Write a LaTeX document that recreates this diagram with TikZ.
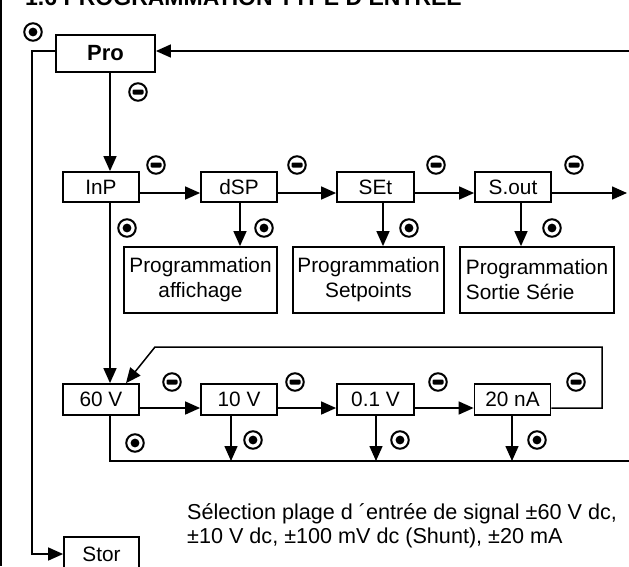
\documentclass[tikz,border=0pt]{standalone}
\usepackage{fontspec}
\setmainfont{Liberation Sans}
\usetikzlibrary{arrows.meta,calc}
\begin{document}
\begin{tikzpicture}[x=1pt,y=-1pt,
  box/.style={draw,line width=1.8pt,inner sep=0pt,minimum height=30pt,minimum width=76pt,font=\fontsize{20.8}{25}\selectfont},
  pbox/.style={box,minimum height=66pt},
  ln/.style={line width=1.5pt},
  arr/.style={ln,-{Triangle[length=15pt,width=13pt]}},
  sym/.style={circle,draw,line width=2pt,minimum size=17.5pt,inner sep=0pt},
  entsym/.style={sym,path picture={\fill (path picture bounding box.center) circle (4.4pt);}},
  minsym/.style={sym,path picture={\fill[rounded corners=1.2pt] ($(path picture bounding box.center)+(-5.5pt,-2.5pt)$) rectangle ($(path picture bounding box.center)+(5.5pt,2.5pt)$);}},
  txt/.style={anchor=base west,inner sep=0pt,font=\fontsize{21.6}{24}\selectfont}
]
\useasboundingbox (0,0) rectangle (629,566);
\clip (0,0) rectangle (629,566);

% title (cut off at the top) and left frame line
\node[anchor=base west,inner sep=0pt,font=\bfseries\fontsize{23}{23}\selectfont] (title) at (25,5.5) {1.6 PROGRAMMATION TYPE D'ENTREE};
\draw[ln] (1,0) -- (1,566);

% boxes
\node[box,minimum width=99pt,minimum height=37pt,font=\bfseries\fontsize{22}{22}\selectfont] (pro) at (105.5,53.5) {Pro};
\node[box] (inp) at (101,187) {InP};
\node[box] (dsp) at (239,187) {dSP};
\node[box,minimum width=77pt] (sett) at (375.5,187) {SEt};
\node[box] (sout) at (513,187) {S.out};
\node[pbox,minimum width=153pt,align=center] (prog1) at (200.5,280) {Programmation\\affichage};
\node[pbox,minimum width=151pt,align=center] (prog2) at (368.5,280) {Programmation\\Setpoints};
\node[pbox,minimum width=154pt,align=left] (prog3) at (537,280) {Programmation\\Sortie Série};
\node[box,minimum height=31pt] (v60) at (101,399.5) {60 V};
\node[box,minimum height=31pt] (v10) at (239,399.5) {10 V};
\node[box,minimum height=31pt,minimum width=77pt] (v01) at (375.5,399.5) {0.1 V};
\node[box,minimum height=31pt] (na20) at (512.5,399.5) {20 nA};
\node[box,minimum width=75pt,minimum height=34pt] (stor) at (101.5,554) {Stor};

% helper coordinates
\coordinate (vx) at (110,0);
\coordinate (lx) at (32,0);
\coordinate (rin) at (629,51);
\coordinate (r1) at (0,193);
\coordinate (r1end) at (627,193);
\coordinate (r2) at (0,408);
\coordinate (bot) at (629,461);
\coordinate (lp1) at (602,408);
\coordinate (lp2) at (602,347);
\coordinate (lp3) at (155,347);
\coordinate (a1) at (240,0);
\coordinate (a2) at (383,0);
\coordinate (a3) at (521,0);
\coordinate (b1) at (231,0);
\coordinate (b2) at (376,0);
\coordinate (b3) at (512,0);

% connectors
\draw[arr] (rin) -- (rin -| pro.east);
\draw[arr] (rin -| pro.west) -- (rin -| lx) |- (stor.west);
\draw[arr] (pro.south -| vx) -- (inp.north -| vx);
\draw[arr] (inp.south -| vx) -- (v60.north -| vx);

\draw[arr] (r1 -| inp.east) -- (r1 -| dsp.west);
\draw[arr] (r1 -| dsp.east) -- (r1 -| sett.west);
\draw[arr] (r1 -| sett.east) -- (r1 -| sout.west);
\draw[arr] (r1 -| sout.east) -- (r1end);
\draw[arr] (dsp.south -| a1) -- (prog1.north -| a1);
\draw[arr] (sett.south -| a2) -- (prog2.north -| a2);
\draw[arr] (sout.south -| a3) -- (prog3.north -| a3);

\draw[arr] (r2 -| v60.east) -- (r2 -| v10.west);
\draw[arr] (r2 -| v10.east) -- (r2 -| v01.west);
\draw[arr] (r2 -| v01.east) -- (r2 -| na20.west);
\draw[arr] (r2 -| na20.east) -- (lp1) -- (lp2) -- (lp3) -- ([xshift=25pt]v60.north);
\draw[ln] (v60.south -| vx) |- (bot);
\draw[arr] (v10.south -| b1) -- (b1 |- bot);
\draw[arr] (v01.south -| b2) -- (b2 |- bot);
\draw[arr] (na20.south -| b3) -- (b3 |- bot);

% key symbols
\node[entsym] (e0) at (33,32) {};
\node[minsym] (m0) at (138,92) {};
\node[minsym] (m1) at (156,165) {};
\node[minsym] (m2) at (297,165) {};
\node[minsym] (m3) at (436,165) {};
\node[minsym] (m4) at (574,165) {};
\node[entsym] (d1) at (127,228) {};
\node[entsym] (d2) at (264,228) {};
\node[entsym] (d3) at (409,228) {};
\node[entsym] (d4) at (552,228) {};
\node[minsym] (m5) at (172,382) {};
\node[minsym] (m6) at (295,382) {};
\node[minsym] (m7) at (438,382) {};
\node[minsym] (m8) at (576,382) {};
\node[entsym] (d5) at (135,443) {};
\node[entsym] (d6) at (253,440) {};
\node[entsym] (d7) at (400,440) {};
\node[entsym] (d8) at (537,440) {};

% description
\node[txt] (desc1) at (187,519) {Sélection plage d ´entrée de signal ±60 V dc,};
\node[txt] (desc2) at (187,543) {±10 V dc, ±100 mV dc (Shunt), ±20 mA};
\end{tikzpicture}
\end{document}
